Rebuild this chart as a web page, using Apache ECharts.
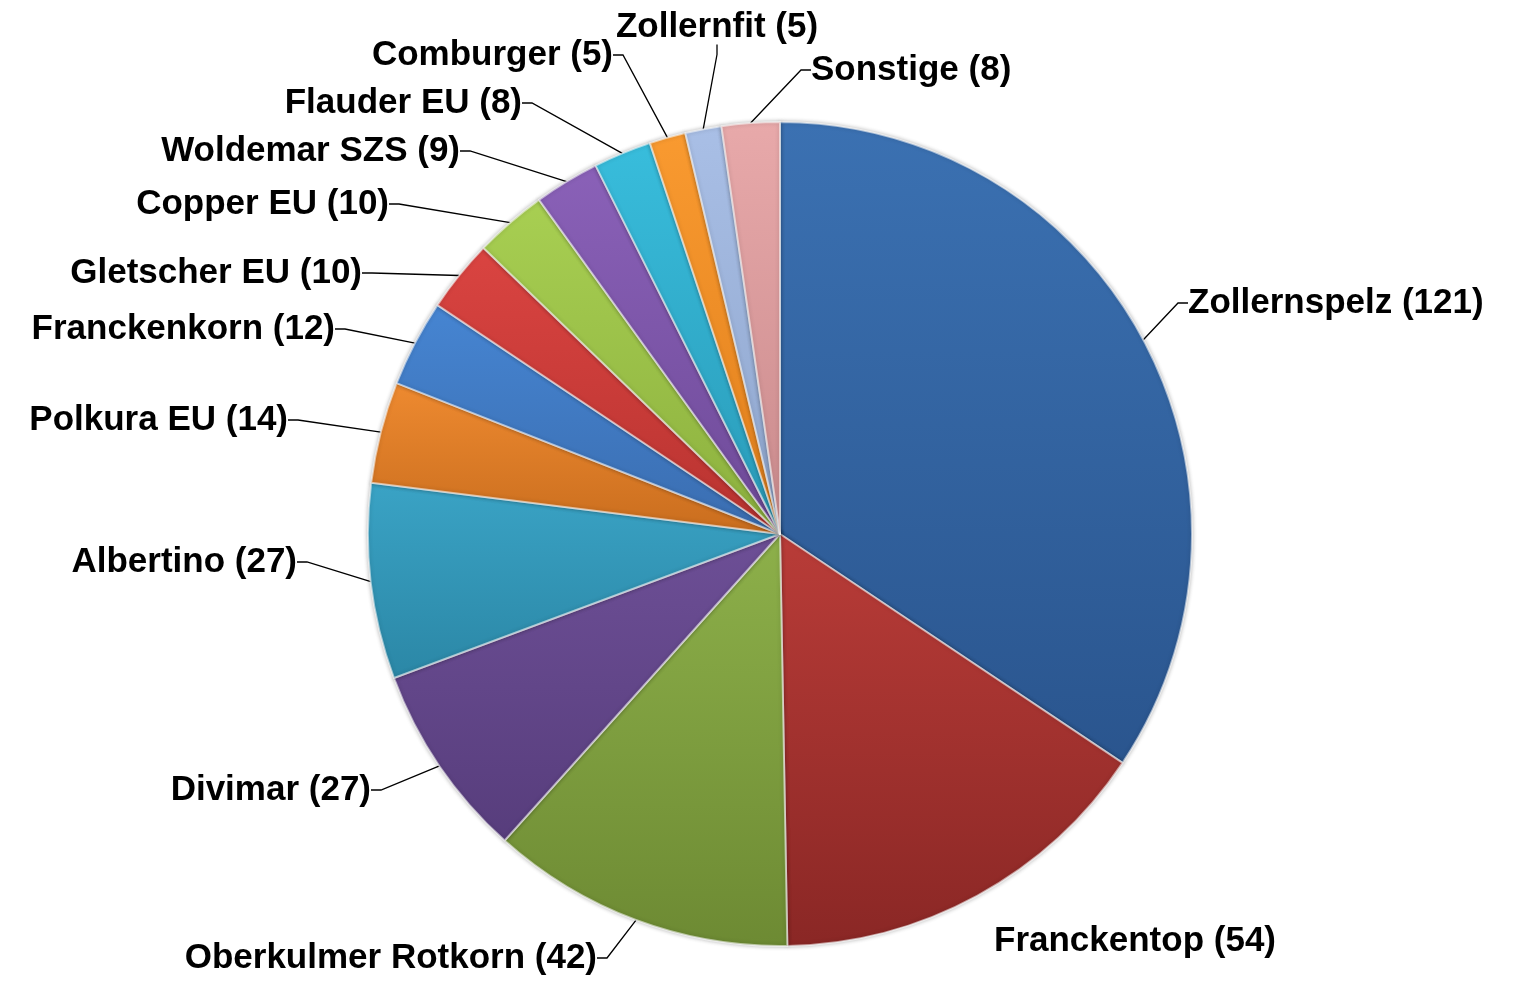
<!DOCTYPE html>
<html>
<head>
<meta charset="utf-8">
<style>
  html, body { margin: 0; padding: 0; background: #fff; }
  #main { width: 1516px; height: 983px; }
</style>
<script src="https://cdn.jsdelivr.net/npm/echarts@6/dist/echarts.min.js"></script>
</head>
<body>
<div id="main"></div>
<script>
// Sorten (Anzahl)
var sorten = ['Zollernspelz', 'Franckentop', 'Oberkulmer Rotkorn', 'Divimar', 'Albertino',
  'Polkura EU', 'Franckenkorn', 'Gletscher EU', 'Copper EU', 'Woldemar SZS',
  'Flauder EU', 'Comburger', 'Zollernfit', 'Sonstige'];
var anzahl = [121, 54, 42, 27, 27, 14, 12, 10, 10, 9, 8, 5, 5, 8];

// slice colours: light (top) / dark (bottom)
var hell = ['#3b71b2', '#b93c38', '#8db04a', '#6d4f96', '#3aa3c5', '#ee8a30', '#4685d2',
  '#da4441', '#a8cf52', '#8a61b8', '#38bddc', '#f99a30', '#a9bfe6', '#e8a9aa'];
var dunkel = ['#2a558e', '#8a2725', '#6d8a33', '#573d7c', '#2b87a6', '#c96d1e', '#3a6db0',
  '#b83330', '#8cb03e', '#6e4a98', '#2a9ab8', '#e07f1c', '#8ea5cc', '#c98a8c'];

// where each label sits (x, y, alignment)
var labelSpots = [
  [1188, 303, 'left'], [994, 941, 'left'], [597, 958, 'right'], [371, 790, 'right'],
  [297, 562, 'right'], [288, 420, 'right'], [335, 329, 'right'], [362, 273, 'right'],
  [389, 204, 'right'], [460, 151, 'right'], [522, 103, 'right'], [613, 55, 'right'],
  [717, 27, 'center'], [811, 70, 'left']
];

var chart = echarts.init(document.getElementById('main'));

var pieData = sorten.map(function (name, i) {
  return {
    name: name,
    value: anzahl[i],
    itemStyle: {
      color: new echarts.graphic.LinearGradient(0, 0, 0, 1, [
        { offset: 0, color: hell[i] },
        { offset: 1, color: dunkel[i] }
      ])
    },
    labelLine: { show: i !== 1 }
  };
});

var option = {
  backgroundColor: '#ffffff',
  animation: false,
  series: [{
    type: 'pie',
    center: [780, 534],
    radius: 412,
    startAngle: 90,
    clockwise: true,
    avoidLabelOverlap: false,
    data: pieData,
    itemStyle: {
      borderColor: 'rgba(255,255,255,0.55)',
      borderWidth: 2,
      shadowColor: 'rgba(0,0,0,0.3)',
      shadowBlur: 4
    },
    label: {
      show: true,
      position: 'outside',
      formatter: '{b} ({c})',
      fontFamily: 'Liberation Sans, Arial, sans-serif',
      fontWeight: 'bold',
      fontSize: 35,
      color: '#000'
    },
    labelLine: {
      show: true,
      length: 15,
      length2: 10,
      lineStyle: { color: '#000', width: 1.3 }
    },
    labelLayout: function (params) {
      var s = labelSpots[params.dataIndex];
      return {
        x: s[0],
        y: s[1],
        align: s[2],
        verticalAlign: 'middle'
      };
    }
  }]
};

chart.setOption(option);
</script>
</body>
</html>
